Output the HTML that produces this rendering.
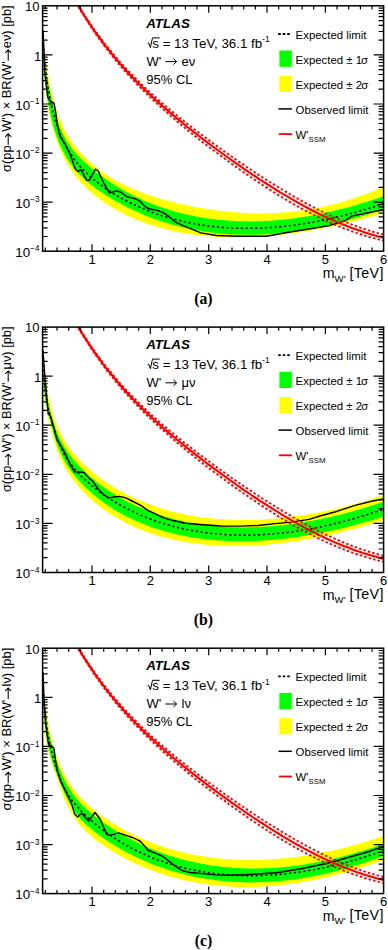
<!DOCTYPE html>
<html><head><meta charset="utf-8"><style>
html,body{margin:0;padding:0;background:#fff;}
body{width:388px;height:950px;overflow:hidden;}
svg{display:block;font-family:"Liberation Sans",sans-serif;}
</style></head><body>
<svg width="388" height="950" viewBox="0 0 388 950">
<clipPath id="c0"><rect x="42.6" y="5.8" width="341" height="245.4"/></clipPath>
<g clip-path="url(#c0)">
<polygon points="42.6,29.5 42.9,33.6 43.3,37.7 43.7,41.8 44.1,45.8 44.6,49.9 45,53.9 45.6,57.9 46.1,61.9 46.7,65.9 47.3,69.8 47.9,73.6 48.6,77.4 49.3,81.2 50,84.8 50.8,88.4 51.6,92 52.4,95.4 53.2,98.8 54.1,102.1 55,105.3 56,108.4 57,111.4 58,114.3 59,117.1 60.1,119.8 61.2,122.5 62.3,125 63.5,127.5 64.6,129.9 65.9,132.2 67.1,134.4 68.4,136.5 69.7,138.6 71.1,140.6 72.4,142.5 73.8,144.4 75.3,146.3 76.8,148.1 78.3,149.9 79.8,151.6 81.3,153.3 82.9,155 84.6,156.7 86.2,158.3 87.9,160 89.6,161.5 91.4,163.1 93.1,164.6 94.9,166.1 96.8,167.6 98.6,169 100.5,170.5 102.5,171.8 104.4,173.2 106.4,174.6 108.4,175.9 110.5,177.2 112.6,178.4 114.7,179.7 116.8,180.9 119,182.1 121.2,183.2 123.5,184.4 125.7,185.5 128,186.6 130.4,187.7 132.7,188.7 135.1,189.7 137.5,190.7 140,191.7 142.5,192.7 145,193.6 147.5,194.5 150.1,195.4 152.7,196.3 155.4,197.1 158,198 160.7,198.8 163.5,199.6 166.2,200.3 169,201.1 171.8,201.8 174.7,202.5 177.6,203.2 180.5,203.9 183.4,204.5 186.4,205.2 189.4,205.8 192.4,206.4 195.5,207 198.6,207.5 201.7,208.1 204.9,208.6 208.1,209.1 211.3,209.6 214.6,210.1 217.9,210.5 221.2,211 224.5,211.3 227.9,211.7 231.3,212 234.7,212.3 238.2,212.6 241.7,212.8 245.2,213 248.8,213.2 252.4,213.3 256,213.4 259.7,213.4 263.4,213.4 267.1,213.4 270.8,213.2 274.6,213.1 278.4,212.9 282.2,212.6 286.1,212.3 290,212 293.9,211.5 297.9,211.1 301.9,210.5 305.9,209.9 310,209.3 314.1,208.5 318.2,207.7 322.3,206.9 326.5,206 330.7,205 334.9,203.9 339.2,202.7 343.5,201.5 347.8,200.2 352.2,198.8 356.6,197.4 361,195.8 365.5,194.2 370,192.5 374.5,190.7 379,188.8 383.6,186.9 383.6,212.9 379,214.3 374.5,215.7 370,217 365.5,218.2 361,219.4 356.6,220.6 352.2,221.7 347.8,222.8 343.5,223.8 339.2,224.8 334.9,225.8 330.7,226.7 326.5,227.6 322.3,228.5 318.2,229.3 314.1,230 310,230.8 305.9,231.4 301.9,232.1 297.9,232.7 293.9,233.3 290,233.8 286.1,234.3 282.2,234.8 278.4,235.2 274.6,235.6 270.8,235.9 267.1,236.2 263.4,236.5 259.7,236.7 256,237 252.4,237.1 248.8,237.3 245.2,237.4 241.7,237.4 238.2,237.5 234.7,237.5 231.3,237.4 227.9,237.4 224.5,237.2 221.2,237.1 217.9,236.9 214.6,236.7 211.3,236.5 208.1,236.2 204.9,236 201.7,235.6 198.6,235.3 195.5,234.9 192.4,234.5 189.4,234 186.4,233.5 183.4,233 180.5,232.5 177.6,231.9 174.7,231.3 171.8,230.7 169,230 166.2,229.3 163.5,228.6 160.7,227.9 158,227.1 155.4,226.3 152.7,225.5 150.1,224.6 147.5,223.7 145,222.8 142.5,221.9 140,221 137.5,220 135.1,219 132.7,217.9 130.4,216.9 128,215.8 125.7,214.7 123.5,213.6 121.2,212.4 119,211.2 116.8,210 114.7,208.8 112.6,207.6 110.5,206.3 108.4,205 106.4,203.7 104.4,202.3 102.5,201 100.5,199.6 98.6,198.2 96.8,196.8 94.9,195.3 93.1,193.9 91.4,192.4 89.6,190.8 87.9,189.3 86.2,187.7 84.6,186 82.9,184.4 81.3,182.7 79.8,180.9 78.3,179.1 76.8,177.3 75.3,175.4 73.8,173.5 72.4,171.5 71.1,169.5 69.7,167.5 68.4,165.4 67.1,163.2 65.9,161 64.6,158.7 63.5,156.3 62.3,153.9 61.2,151.5 60.1,148.9 59,146.3 58,143.7 57,141 56,138.2 55,135.3 54.1,132.3 53.2,129.3 52.4,126.2 51.6,123.1 50.8,119.8 50,116.5 49.3,113 48.6,109.5 47.9,106 47.3,102.3 46.7,98.5 46.1,94.7 45.6,90.7 45,86.7 44.6,82.5 44.1,78.3 43.7,74 43.3,69.5 42.9,65 42.6,60.3" fill="#ffff00"/>
<polygon points="42.6,39.8 42.9,44.2 43.3,48.5 43.7,52.7 44.1,56.8 44.6,60.7 45,64.5 45.6,68.2 46.1,71.8 46.7,75.3 47.3,78.7 47.9,82.1 48.6,85.3 49.3,88.5 50,91.7 50.8,95 51.6,98.4 52.4,101.9 53.2,105.5 54.1,109.1 55,112.5 56,115.7 57,118.9 58,121.8 59,124.7 60.1,127.4 61.2,130 62.3,132.5 63.5,134.9 64.6,137.2 65.9,139.3 67.1,141.4 68.4,143.5 69.7,145.4 71.1,147.3 72.4,149.1 73.8,150.8 75.3,152.5 76.8,154.2 78.3,155.8 79.8,157.4 81.3,158.9 82.9,160.5 84.6,162 86.2,163.5 87.9,165 89.6,166.5 91.4,168 93.1,169.5 94.9,170.9 96.8,172.4 98.6,173.8 100.5,175.3 102.5,176.7 104.4,178.1 106.4,179.5 108.4,180.9 110.5,182.3 112.6,183.6 114.7,185 116.8,186.3 119,187.6 121.2,188.9 123.5,190.2 125.7,191.5 128,192.7 130.4,193.9 132.7,195.1 135.1,196.3 137.5,197.5 140,198.6 142.5,199.8 145,200.9 147.5,201.9 150.1,203 152.7,204 155.4,205 158,206 160.7,207 163.5,207.9 166.2,208.8 169,209.7 171.8,210.5 174.7,211.4 177.6,212.2 180.5,212.9 183.4,213.7 186.4,214.4 189.4,215.1 192.4,215.7 195.5,216.3 198.6,216.9 201.7,217.4 204.9,218 208.1,218.4 211.3,218.9 214.6,219.3 217.9,219.7 221.2,220 224.5,220.3 227.9,220.6 231.3,220.8 234.7,221 238.2,221.2 241.7,221.3 245.2,221.3 248.8,221.4 252.4,221.4 256,221.3 259.7,221.2 263.4,221.1 267.1,220.9 270.8,220.7 274.6,220.4 278.4,220.1 282.2,219.7 286.1,219.3 290,218.9 293.9,218.4 297.9,217.8 301.9,217.2 305.9,216.6 310,215.9 314.1,215.2 318.2,214.4 322.3,213.5 326.5,212.6 330.7,211.7 334.9,210.7 339.2,209.6 343.5,208.5 347.8,207.4 352.2,206.2 356.6,204.9 361,203.6 365.5,202.2 370,200.8 374.5,199.3 379,197.7 383.6,196.1 383.6,208.8 379,210.4 374.5,212 370,213.6 365.5,215 361,216.5 356.6,217.8 352.2,219.1 347.8,220.4 343.5,221.6 339.2,222.7 334.9,223.8 330.7,224.8 326.5,225.8 322.3,226.7 318.2,227.6 314.1,228.4 310,229.2 305.9,229.9 301.9,230.5 297.9,231.1 293.9,231.7 290,232.2 286.1,232.7 282.2,233.1 278.4,233.5 274.6,233.8 270.8,234.1 267.1,234.3 263.4,234.5 259.7,234.6 256,234.7 252.4,234.8 248.8,234.8 245.2,234.8 241.7,234.7 238.2,234.6 234.7,234.5 231.3,234.3 227.9,234.1 224.5,233.9 221.2,233.6 217.9,233.2 214.6,232.9 211.3,232.5 208.1,232.1 204.9,231.6 201.7,231.1 198.6,230.6 195.5,230 192.4,229.4 189.4,228.8 186.4,228.1 183.4,227.5 180.5,226.8 177.6,226 174.7,225.3 171.8,224.5 169,223.6 166.2,222.8 163.5,221.9 160.7,221 158,220.1 155.4,219.2 152.7,218.2 150.1,217.3 147.5,216.3 145,215.2 142.5,214.2 140,213.1 137.5,212.1 135.1,211 132.7,209.8 130.4,208.7 128,207.6 125.7,206.4 123.5,205.2 121.2,204 119,202.8 116.8,201.6 114.7,200.4 112.6,199.2 110.5,197.9 108.4,196.6 106.4,195.4 104.4,194.1 102.5,192.8 100.5,191.5 98.6,190.2 96.8,188.9 94.9,187.6 93.1,186.2 91.4,184.9 89.6,183.5 87.9,182.1 86.2,180.6 84.6,179.2 82.9,177.7 81.3,176.1 79.8,174.6 78.3,173 76.8,171.3 75.3,169.6 73.8,167.9 72.4,166.1 71.1,164.2 69.7,162.3 68.4,160.4 67.1,158.4 65.9,156.3 64.6,154.1 63.5,151.9 62.3,149.6 61.2,147.3 60.1,144.8 59,142.3 58,139.7 57,137 56,134.3 55,131.4 54.1,128.4 53.2,125.4 52.4,122.2 51.6,119 50.8,115.7 50,112.3 49.3,108.8 48.6,105.2 47.9,101.6 47.3,97.9 46.7,94.2 46.1,90.3 45.6,86.3 45,82.1 44.6,77.7 44.1,73 43.7,68 43.3,62.7 42.9,56.9 42.6,50.7" fill="#00ff00"/>
<polyline points="42.6,34.2 42.9,39.6 43.3,44.9 43.7,50.1 44.1,55.1 44.6,60 45,64.7 45.6,69.4 46.1,73.9 46.7,78.2 47.3,82.5 47.9,86.6 48.6,90.6 49.3,94.6 50,98.4 50.8,102 51.6,105.6 52.4,109.1 53.2,112.5 54.1,115.8 55,118.9 56,122 57,125 58,127.9 59,130.7 60.1,133.5 61.2,136.1 62.3,138.7 63.5,141.2 64.6,143.6 65.9,146 67.1,148.3 68.4,150.5 69.7,152.7 71.1,154.7 72.4,156.8 73.8,158.8 75.3,160.7 76.8,162.6 78.3,164.4 79.8,166.2 81.3,167.9 82.9,169.6 84.6,171.2 86.2,172.8 87.9,174.4 89.6,176 91.4,177.5 93.1,179 94.9,180.5 96.8,181.9 98.6,183.3 100.5,184.7 102.5,186.1 104.4,187.5 106.4,188.9 108.4,190.2 110.5,191.6 112.6,192.9 114.7,194.2 116.8,195.5 119,196.8 121.2,198 123.5,199.3 125.7,200.5 128,201.7 130.4,202.8 132.7,204 135.1,205.1 137.5,206.3 140,207.3 142.5,208.4 145,209.5 147.5,210.5 150.1,211.5 152.7,212.5 155.4,213.4 158,214.4 160.7,215.3 163.5,216.1 166.2,217 169,217.8 171.8,218.6 174.7,219.4 177.6,220.1 180.5,220.8 183.4,221.5 186.4,222.2 189.4,222.8 192.4,223.4 195.5,224 198.6,224.5 201.7,225 204.9,225.5 208.1,225.9 211.3,226.3 214.6,226.7 217.9,227 221.2,227.3 224.5,227.5 227.9,227.8 231.3,228 234.7,228.1 238.2,228.2 241.7,228.3 245.2,228.3 248.8,228.3 252.4,228.3 256,228.2 259.7,228.1 263.4,227.9 267.1,227.7 270.8,227.5 274.6,227.2 278.4,226.9 282.2,226.5 286.1,226.1 290,225.7 293.9,225.2 297.9,224.6 301.9,224 305.9,223.4 310,222.7 314.1,222 318.2,221.2 322.3,220.4 326.5,219.5 330.7,218.6 334.9,217.6 339.2,216.6 343.5,215.5 347.8,214.4 352.2,213.2 356.6,212 361,210.7 365.5,209.4 370,208 374.5,206.6 379,205.1 383.6,203.6" fill="none" stroke="#000" stroke-width="1.6" stroke-dasharray="2.2 2.6"/>
<polyline points="43,30 44,50 44.5,70 45.7,80 47.7,97 49.8,100.5 54,103.1 55.6,111.6 57.1,123.2 59.5,134.8 61,137.9 65,143.8 70.2,154.6 75.3,169 77.9,171.6 81,169.5 86.6,180.4 89.2,180.4 95.4,169.2 98.2,171 104.1,183.7 109.3,193 116.5,190.9 120.6,192 126.8,196.6 135.1,198.7 140,201.2 145.6,207.1 149.5,209 157.2,210.3 163.7,212.9 170.1,217.4 175,221.9 185.5,226.7 200.9,232.9 216.4,235.5 230,236 243.2,236.3 266.4,236.3 290,232 310.6,228.7 329.2,225.6 345,220.8 352.4,215.9 364.7,213.5 377.1,211 383.6,210" fill="none" stroke="#000" stroke-width="1.4" stroke-linejoin="round"/>
<polyline points="78.4,5.1 81.8,10.7 85.2,16.1 88.7,21.3 92.1,26.4 95.5,31.2 99,35.9 102.4,40.5 105.8,44.9 109.3,49.2 112.7,53.4 116.1,57.4 119.5,61.3 123,65.2 126.4,68.9 129.8,72.5 133.3,76.1 136.7,79.5 140.1,82.9 143.5,86.2 147,89.5 150.4,92.7 153.8,95.8 157.3,98.8 160.7,101.9 164.1,104.8 167.6,107.7 171,110.6 174.4,113.4 177.8,116.2 181.3,119 184.7,121.7 188.1,124.4 191.6,127 195,129.7 198.4,132.3 201.8,134.9 205.3,137.5 208.7,140 212.1,142.6 215.6,145.1 219,147.6 222.4,150 225.9,152.5 229.3,154.9 232.7,157.3 236.1,159.7 239.6,162.1 243,164.4 246.4,166.7 249.9,169 253.3,171.3 256.7,173.6 260.1,175.8 263.6,178 267,180.2 270.4,182.3 273.9,184.4 277.3,186.5 280.7,188.6 284.1,190.7 287.6,192.8 291,194.8 294.4,196.8 297.9,198.8 301.3,200.7 304.7,202.6 308.2,204.4 311.6,206.2 315,208 318.4,209.8 321.9,211.5 325.3,213.1 328.7,214.7 332.2,216.3 335.6,217.9 339,219.3 342.4,220.8 345.9,222.2 349.3,223.6 352.7,224.9 356.2,226.1 359.6,227.4 363,228.5 366.5,229.7 369.9,230.8 373.3,231.8 376.7,232.8 380.2,233.8 383.6,234.7" fill="none" stroke="#ff0000" stroke-width="1.9" stroke-dasharray="2.4 2.2"/>
<polyline points="78.4,6.7 81.8,12.4 85.2,17.9 88.7,23.3 92.1,28.5 95.5,33.6 99,38.5 102.4,43.2 105.8,47.8 109.3,52.2 112.7,56.5 116.1,60.8 119.5,64.8 123,68.8 126.4,72.7 129.8,76.5 133.3,80.2 136.7,83.8 140.1,87.3 143.5,90.7 147,94.1 150.4,97.4 153.8,100.7 157.3,103.9 160.7,107 164.1,110.1 167.6,113.1 171,116.1 174.4,119.1 177.8,122 181.3,124.9 184.7,127.7 188.1,130.5 191.6,133.3 195,136.1 198.4,138.8 201.8,141.5 205.3,144.1 208.7,146.8 212.1,149.4 215.6,151.9 219,154.5 222.4,157 225.9,159.5 229.3,162 232.7,164.5 236.1,166.9 239.6,169.4 243,171.8 246.4,174.1 249.9,176.5 253.3,178.8 256.7,181.1 260.1,183.4 263.6,185.7 267,187.9 270.4,190.1 273.9,192.3 277.3,194.5 280.7,196.6 284.1,198.6 287.6,200.6 291,202.6 294.4,204.6 297.9,206.5 301.3,208.3 304.7,210.2 308.2,212 311.6,213.7 315,215.5 318.4,217.1 321.9,218.8 325.3,220.4 328.7,222 332.2,223.5 335.6,224.9 339,226.3 342.4,227.7 345.9,229 349.3,230.3 352.7,231.6 356.2,232.8 359.6,233.9 363,235 366.5,236.1 369.9,237.1 373.3,238 376.7,239 380.2,239.8 383.6,240.7" fill="none" stroke="#ff0000" stroke-width="1.9" stroke-dasharray="2.4 2.2"/>
<polyline points="78.4,5.9 81.8,11.5 85.2,17 88.7,22.3 92.1,27.4 95.5,32.4 99,37.2 102.4,41.8 105.8,46.4 109.3,50.7 112.7,55 116.1,59.1 119.5,63.1 123,67 126.4,70.8 129.8,74.5 133.3,78.1 136.7,81.7 140.1,85.1 143.5,88.5 147,91.8 150.4,95 153.8,98.2 157.3,101.4 160.7,104.4 164.1,107.5 167.6,110.4 171,113.4 174.4,116.3 177.8,119.1 181.3,121.9 184.7,124.7 188.1,127.5 191.6,130.2 195,132.9 198.4,135.5 201.8,138.2 205.3,140.8 208.7,143.4 212.1,146 215.6,148.5 219,151 222.4,153.5 225.9,156 229.3,158.5 232.7,160.9 236.1,163.3 239.6,165.7 243,168.1 246.4,170.4 249.9,172.8 253.3,175.1 256.7,177.3 260.1,179.6 263.6,181.8 267,184 270.4,186.2 273.9,188.4 277.3,190.5 280.7,192.6 284.1,194.7 287.6,196.7 291,198.7 294.4,200.7 297.9,202.6 301.3,204.5 304.7,206.4 308.2,208.2 311.6,210 315,211.7 318.4,213.5 321.9,215.1 325.3,216.8 328.7,218.3 332.2,219.9 335.6,221.4 339,222.8 342.4,224.3 345.9,225.6 349.3,226.9 352.7,228.2 356.2,229.5 359.6,230.6 363,231.8 366.5,232.9 369.9,233.9 373.3,234.9 376.7,235.9 380.2,236.8 383.6,237.7" fill="none" stroke="#ff0000" stroke-width="2.1"/>
</g>
<path d="M45.3 251.2v-3.6M45.3 5.8v3.6M57 251.2v-3.6M57 5.8v3.6M68.7 251.2v-3.6M68.7 5.8v3.6M80.3 251.2v-3.6M80.3 5.8v3.6M92 251.2v-7M92 5.8v7M103.7 251.2v-3.6M103.7 5.8v3.6M115.3 251.2v-3.6M115.3 5.8v3.6M127 251.2v-3.6M127 5.8v3.6M138.7 251.2v-3.6M138.7 5.8v3.6M150.3 251.2v-7M150.3 5.8v7M162 251.2v-3.6M162 5.8v3.6M173.7 251.2v-3.6M173.7 5.8v3.6M185.4 251.2v-3.6M185.4 5.8v3.6M197 251.2v-3.6M197 5.8v3.6M208.7 251.2v-7M208.7 5.8v7M220.4 251.2v-3.6M220.4 5.8v3.6M232 251.2v-3.6M232 5.8v3.6M243.7 251.2v-3.6M243.7 5.8v3.6M255.4 251.2v-3.6M255.4 5.8v3.6M267 251.2v-7M267 5.8v7M278.7 251.2v-3.6M278.7 5.8v3.6M290.4 251.2v-3.6M290.4 5.8v3.6M302.1 251.2v-3.6M302.1 5.8v3.6M313.7 251.2v-3.6M313.7 5.8v3.6M325.4 251.2v-7M325.4 5.8v7M337.1 251.2v-3.6M337.1 5.8v3.6M348.7 251.2v-3.6M348.7 5.8v3.6M360.4 251.2v-3.6M360.4 5.8v3.6M372.1 251.2v-3.6M372.1 5.8v3.6M42.6 236.5h5M383.6 236.5h-5M42.6 227.8h5M383.6 227.8h-5M42.6 221.7h5M383.6 221.7h-5M42.6 216.9h5M383.6 216.9h-5M42.6 213.1h5M383.6 213.1h-5M42.6 209.8h5M383.6 209.8h-5M42.6 206.9h5M383.6 206.9h-5M42.6 204.4h5M383.6 204.4h-5M42.6 202.2h10M383.6 202.2h-10M42.6 187.4h5M383.6 187.4h-5M42.6 178.8h5M383.6 178.8h-5M42.6 172.6h5M383.6 172.6h-5M42.6 167.9h5M383.6 167.9h-5M42.6 164h5M383.6 164h-5M42.6 160.7h5M383.6 160.7h-5M42.6 157.8h5M383.6 157.8h-5M42.6 155.3h5M383.6 155.3h-5M42.6 153.1h10M383.6 153.1h-10M42.6 138.3h5M383.6 138.3h-5M42.6 129.7h5M383.6 129.7h-5M42.6 123.5h5M383.6 123.5h-5M42.6 118.8h5M383.6 118.8h-5M42.6 114.9h5M383.6 114.9h-5M42.6 111.6h5M383.6 111.6h-5M42.6 108.8h5M383.6 108.8h-5M42.6 106.3h5M383.6 106.3h-5M42.6 104h10M383.6 104h-10M42.6 89.2h5M383.6 89.2h-5M42.6 80.6h5M383.6 80.6h-5M42.6 74.5h5M383.6 74.5h-5M42.6 69.7h5M383.6 69.7h-5M42.6 65.8h5M383.6 65.8h-5M42.6 62.5h5M383.6 62.5h-5M42.6 59.7h5M383.6 59.7h-5M42.6 57.2h5M383.6 57.2h-5M42.6 54.9h10M383.6 54.9h-10M42.6 40.2h5M383.6 40.2h-5M42.6 31.5h5M383.6 31.5h-5M42.6 25.4h5M383.6 25.4h-5M42.6 20.6h5M383.6 20.6h-5M42.6 16.7h5M383.6 16.7h-5M42.6 13.5h5M383.6 13.5h-5M42.6 10.6h5M383.6 10.6h-5M42.6 8.1h5M383.6 8.1h-5" stroke="#000" stroke-width="1.2" fill="none"/>
<rect x="42.6" y="5.8" width="341" height="245.4" fill="none" stroke="#000" stroke-width="1.5"/>
<g font-size="13"><text x="25" y="11.2">10</text><text x="34" y="60.5">1</text><text x="15.2" y="109.8" font-size="13.4">10</text><text x="30.1" y="104.2" font-size="8.2">−1</text><text x="15.2" y="158.9" font-size="13.4">10</text><text x="30.1" y="153.3" font-size="8.2">−2</text><text x="15.2" y="208" font-size="13.4">10</text><text x="30.1" y="202.4" font-size="8.2">−3</text><text x="15.2" y="257" font-size="13.4">10</text><text x="30.1" y="251.4" font-size="8.2">−4</text><text x="92" y="263.9" text-anchor="middle">1</text><text x="150.3" y="263.9" text-anchor="middle">2</text><text x="208.7" y="263.9" text-anchor="middle">3</text><text x="267" y="263.9" text-anchor="middle">4</text><text x="325.4" y="263.9" text-anchor="middle">5</text><text x="383.7" y="263.9" text-anchor="middle">6</text></g>
<text x="322.8" y="278.4" font-size="14.2">m</text><text x="334.6" y="281.9" font-size="9.6">W'</text><text x="349.5" y="277.6" font-size="14.3" letter-spacing="0.35">[TeV]</text>
<g transform="translate(11.3 172) rotate(-90) scale(0.9922 1)" font-size="13.0"><text x="0" y="0">σ(pp</text><path d="M27.4 -3.1H38.5M35.5 -6.1L38.5 -3.1L35.5 -0.1" fill="none" stroke="#000" stroke-width="1.05"/><text x="40.5" y="0">W') × BR(W'</text><path d="M112.1 -3.1H123.1M120.1 -6.1L123.1 -3.1L120.1 -0.1" fill="none" stroke="#000" stroke-width="1.05"/><text x="124.7" y="0">eν) [pb]</text></g>
<text x="146.2" y="28" font-size="13.4" font-weight="bold" font-style="italic">ATLAS</text>
<path d="M147.6 43.6l1.1-0.7l1.7 4.6l2.1-9.6h7.2" fill="none" stroke="#000" stroke-width="1.0"/>
<text x="152.3" y="47.7" font-size="13.3">s = 13 TeV, 36.1 fb<tspan font-size="8.5" dy="-5.5">-1</tspan></text>
<text x="146.6" y="65.6" font-size="13">W'</text>
<path d="M165.3 61.6H176.6M173.4 58.6L176.6 61.6L173.4 64.6" fill="none" stroke="#000" stroke-width="1.0"/>
<text x="181.5" y="65.6" font-size="13">eν</text>
<text x="146.3" y="83.9" font-size="13">95% CL</text>
<path d="M278.2 34h12" stroke="#000" stroke-width="1.8" stroke-dasharray="2.6 1.9"/>
<rect x="279.4" y="50.5" width="12.4" height="16.3" fill="#00ff00"/>
<rect x="279.4" y="75.8" width="12.4" height="16.1" fill="#ffff00"/>
<path d="M278.5 108.9h13.4" stroke="#000" stroke-width="1.5"/>
<path d="M279 134.1h13" stroke="#ff0000" stroke-width="1.8"/>
<g font-size="11.4"><text x="295.6" y="39">Expected limit</text><text x="295.6" y="63.8">Expected ± 1<tspan dx="-1.0">σ</tspan></text><text x="295.6" y="89">Expected ± 2<tspan dx="-0.8">σ</tspan></text><text x="295.6" y="114">Observed limit</text><text x="295.6" y="138.6">W'<tspan font-size="7.8" dy="3.2">SSM</tspan></text></g>
<text x="0" y="0" transform="translate(203.4 303.8) scale(0.93 1)" text-anchor="middle" font-family="Liberation Serif" font-weight="bold" font-size="17">(a)</text>
<clipPath id="c1"><rect x="42.6" y="327.1" width="341" height="245.4"/></clipPath>
<g clip-path="url(#c1)">
<polygon points="42.6,349.8 42.9,354.3 43.3,358.8 43.7,363.1 44.1,367.3 44.6,371.4 45,375.3 45.6,379.2 46.1,382.9 46.7,386.5 47.3,390 47.9,393.5 48.6,396.8 49.3,400 50,403.1 50.8,406.1 51.6,409.1 52.4,411.9 53.2,414.7 54.1,417.4 55,420 56,422.6 57,425 58,427.4 59,429.8 60.1,432 61.2,434.2 62.3,436.4 63.5,438.5 64.6,440.5 65.9,442.5 67.1,444.4 68.4,446.3 69.7,448.1 71.1,449.9 72.4,451.7 73.8,453.4 75.3,455.1 76.8,456.8 78.3,458.4 79.8,460 81.3,461.6 82.9,463.2 84.6,464.7 86.2,466.3 87.9,467.8 89.6,469.3 91.4,470.8 93.1,472.3 94.9,473.8 96.8,475.2 98.6,476.7 100.5,478.1 102.5,479.5 104.4,480.9 106.4,482.3 108.4,483.6 110.5,485 112.6,486.3 114.7,487.6 116.8,488.9 119,490.1 121.2,491.4 123.5,492.6 125.7,493.8 128,495 130.4,496.1 132.7,497.3 135.1,498.4 137.5,499.5 140,500.5 142.5,501.6 145,502.6 147.5,503.6 150.1,504.6 152.7,505.5 155.4,506.4 158,507.3 160.7,508.2 163.5,509 166.2,509.8 169,510.6 171.8,511.4 174.7,512.1 177.6,512.8 180.5,513.5 183.4,514.1 186.4,514.7 189.4,515.3 192.4,515.8 195.5,516.4 198.6,516.8 201.7,517.3 204.9,517.7 208.1,518.1 211.3,518.5 214.6,518.8 217.9,519.1 221.2,519.3 224.5,519.5 227.9,519.7 231.3,519.9 234.7,520 238.2,520.1 241.7,520.1 245.2,520.1 248.8,520.1 252.4,520 256,519.9 259.7,519.7 263.4,519.5 267.1,519.3 270.8,519 274.6,518.7 278.4,518.4 282.2,518 286.1,517.5 290,517.1 293.9,516.6 297.9,516 301.9,515.4 305.9,514.7 310,514.1 314.1,513.3 318.2,512.5 322.3,511.7 326.5,510.8 330.7,509.9 334.9,509 339.2,508 343.5,506.9 347.8,505.8 352.2,504.6 356.6,503.4 361,502.2 365.5,500.9 370,499.5 374.5,498.1 379,496.7 383.6,495.2 383.6,520.3 379,521.8 374.5,523.2 370,524.5 365.5,525.8 361,527 356.6,528.3 352.2,529.4 347.8,530.6 343.5,531.6 339.2,532.7 334.9,533.7 330.7,534.7 326.5,535.6 322.3,536.5 318.2,537.3 314.1,538.1 310,538.9 305.9,539.6 301.9,540.3 297.9,540.9 293.9,541.5 290,542.1 286.1,542.6 282.2,543.1 278.4,543.5 274.6,544 270.8,544.3 267.1,544.7 263.4,545 259.7,545.2 256,545.5 252.4,545.7 248.8,545.8 245.2,545.9 241.7,546 238.2,546.1 234.7,546.1 231.3,546 227.9,546 224.5,545.9 221.2,545.8 217.9,545.6 214.6,545.4 211.3,545.2 208.1,544.9 204.9,544.6 201.7,544.3 198.6,543.9 195.5,543.5 192.4,543.1 189.4,542.7 186.4,542.2 183.4,541.7 180.5,541.1 177.6,540.5 174.7,539.9 171.8,539.3 169,538.6 166.2,537.9 163.5,537.1 160.7,536.4 158,535.6 155.4,534.8 152.7,533.9 150.1,533 147.5,532.1 145,531.2 142.5,530.2 140,529.2 137.5,528.2 135.1,527.2 132.7,526.1 130.4,525 128,523.9 125.7,522.7 123.5,521.5 121.2,520.3 119,519.1 116.8,517.8 114.7,516.6 112.6,515.2 110.5,513.9 108.4,512.6 106.4,511.2 104.4,509.8 102.5,508.3 100.5,506.9 98.6,505.4 96.8,503.9 94.9,502.4 93.1,500.9 91.4,499.3 89.6,497.7 87.9,496.1 86.2,494.5 84.6,492.8 82.9,491.1 81.3,489.4 79.8,487.7 78.3,486 76.8,484.2 75.3,482.4 73.8,480.6 72.4,478.7 71.1,476.8 69.7,474.8 68.4,472.9 67.1,470.8 65.9,468.8 64.6,466.6 63.5,464.4 62.3,462.1 61.2,459.8 60.1,457.3 59,454.8 58,452.2 57,449.5 56,446.6 55,443.7 54.1,440.6 53.2,437.5 52.4,434.3 51.6,431.1 50.8,427.9 50,424.7 49.3,421.7 48.6,418.7 47.9,415.8 47.3,413.1 46.7,410.4 46.1,407.7 45.6,404.9 45,401.9 44.6,398.7 44.1,395 43.7,391 43.3,386.4 42.9,381.3 42.6,375.5" fill="#ffff00"/>
<polygon points="42.6,360.2 42.9,364.5 43.3,368.7 43.7,372.8 44.1,376.7 44.6,380.6 45,384.3 45.6,388 46.1,391.5 46.7,395 47.3,398.4 47.9,401.6 48.6,404.8 49.3,407.9 50,410.9 50.8,413.8 51.6,416.6 52.4,419.4 53.2,422.1 54.1,424.7 55,427.2 56,429.7 57,432.1 58,434.4 59,436.7 60.1,438.9 61.2,441.1 62.3,443.2 63.5,445.2 64.6,447.2 65.9,449.2 67.1,451.1 68.4,452.9 69.7,454.8 71.1,456.6 72.4,458.3 73.8,460 75.3,461.7 76.8,463.4 78.3,465 79.8,466.7 81.3,468.3 82.9,469.8 84.6,471.4 86.2,473 87.9,474.5 89.6,476 91.4,477.5 93.1,479 94.9,480.5 96.8,482 98.6,483.4 100.5,484.9 102.5,486.3 104.4,487.7 106.4,489.1 108.4,490.4 110.5,491.8 112.6,493.1 114.7,494.4 116.8,495.7 119,497 121.2,498.3 123.5,499.5 125.7,500.7 128,501.9 130.4,503.1 132.7,504.2 135.1,505.3 137.5,506.4 140,507.5 142.5,508.6 145,509.6 147.5,510.6 150.1,511.6 152.7,512.6 155.4,513.5 158,514.4 160.7,515.3 163.5,516.1 166.2,517 169,517.7 171.8,518.5 174.7,519.3 177.6,520 180.5,520.6 183.4,521.3 186.4,521.9 189.4,522.5 192.4,523.1 195.5,523.6 198.6,524.1 201.7,524.5 204.9,525 208.1,525.4 211.3,525.7 214.6,526 217.9,526.3 221.2,526.6 224.5,526.8 227.9,527 231.3,527.2 234.7,527.3 238.2,527.3 241.7,527.4 245.2,527.4 248.8,527.3 252.4,527.3 256,527.1 259.7,527 263.4,526.8 267.1,526.5 270.8,526.3 274.6,525.9 278.4,525.6 282.2,525.2 286.1,524.7 290,524.2 293.9,523.7 297.9,523.1 301.9,522.5 305.9,521.8 310,521.1 314.1,520.4 318.2,519.6 322.3,518.7 326.5,517.8 330.7,516.9 334.9,515.9 339.2,514.9 343.5,513.8 347.8,512.6 352.2,511.4 356.6,510.2 361,508.9 365.5,507.6 370,506.2 374.5,504.8 379,503.3 383.6,501.7 383.6,516.6 379,518 374.5,519.4 370,520.8 365.5,522.1 361,523.3 356.6,524.5 352.2,525.7 347.8,526.8 343.5,527.9 339.2,528.9 334.9,529.9 330.7,530.9 326.5,531.8 322.3,532.6 318.2,533.5 314.1,534.2 310,535 305.9,535.6 301.9,536.3 297.9,536.9 293.9,537.5 290,538 286.1,538.5 282.2,538.9 278.4,539.3 274.6,539.7 270.8,540 267.1,540.3 263.4,540.5 259.7,540.7 256,540.9 252.4,541 248.8,541.1 245.2,541.2 241.7,541.2 238.2,541.2 234.7,541.1 231.3,541.1 227.9,540.9 224.5,540.8 221.2,540.6 217.9,540.4 214.6,540.1 211.3,539.8 208.1,539.5 204.9,539.1 201.7,538.7 198.6,538.3 195.5,537.9 192.4,537.4 189.4,536.9 186.4,536.3 183.4,535.7 180.5,535.1 177.6,534.5 174.7,533.8 171.8,533.1 169,532.4 166.2,531.6 163.5,530.8 160.7,530 158,529.2 155.4,528.3 152.7,527.4 150.1,526.5 147.5,525.6 145,524.6 142.5,523.6 140,522.5 137.5,521.5 135.1,520.4 132.7,519.3 130.4,518.2 128,517 125.7,515.9 123.5,514.7 121.2,513.5 119,512.2 116.8,511 114.7,509.7 112.6,508.4 110.5,507 108.4,505.7 106.4,504.3 104.4,502.9 102.5,501.5 100.5,500.1 98.6,498.6 96.8,497.2 94.9,495.7 93.1,494.2 91.4,492.7 89.6,491.1 87.9,489.6 86.2,488 84.6,486.4 82.9,484.8 81.3,483.1 79.8,481.5 78.3,479.8 76.8,478.1 75.3,476.3 73.8,474.6 72.4,472.7 71.1,470.9 69.7,469 68.4,467 67.1,465 65.9,462.9 64.6,460.7 63.5,458.5 62.3,456.3 61.2,453.9 60.1,451.5 59,449 58,446.4 57,443.8 56,441 55,438.2 54.1,435.3 53.2,432.3 52.4,429.2 51.6,426.1 50.8,423.1 50,420.1 49.3,417.2 48.6,414.5 47.9,411.8 47.3,409.1 46.7,406.4 46.1,403.5 45.6,400.4 45,397 44.6,393.2 44.1,389 43.7,384.3 43.3,378.9 42.9,372.9 42.6,366.1" fill="#00ff00"/>
<polyline points="43,350.2 43.4,359.9 43.8,368.3 44.2,375.7 44.6,382.1 45.1,387.6 45.6,392.4 46.2,396.5 46.8,400.2 47.4,403.5 48,406.5 48.7,409.4 49.4,412.2 50.1,415 50.8,417.8 51.6,420.6 52.4,423.4 53.3,426.3 54.2,429.2 55.1,432.2 56,435.1 57,437.9 58,440.6 59,443.2 60.1,445.7 61.2,448.1 62.3,450.4 63.4,452.7 64.6,454.8 65.8,456.9 67,458.9 68.3,460.8 69.6,462.7 71,464.5 72.3,466.3 73.7,468 75.1,469.6 76.6,471.3 78.1,472.9 79.6,474.4 81.1,476 82.7,477.5 84.3,479 85.9,480.5 87.6,482 89.3,483.4 91,484.9 92.8,486.3 94.5,487.8 96.4,489.2 98.2,490.6 100.1,492 102,493.4 103.9,494.8 105.9,496.1 107.9,497.5 109.9,498.8 112,500.1 114.1,501.4 116.2,502.7 118.3,503.9 120.5,505.2 122.7,506.4 124.9,507.6 127.2,508.8 129.5,509.9 131.8,511.1 134.2,512.2 136.6,513.3 139,514.4 141.5,515.4 143.9,516.5 146.5,517.5 149,518.5 151.6,519.5 154.2,520.4 156.8,521.3 159.5,522.2 162.2,523.1 164.9,523.9 167.6,524.7 170.4,525.5 173.2,526.3 176.1,527 178.9,527.7 181.9,528.4 184.8,529.1 187.8,529.7 190.7,530.3 193.8,530.8 196.8,531.3 199.9,531.8 203,532.3 206.2,532.7 209.4,533.1 212.6,533.5 215.8,533.8 219.1,534.1 222.4,534.3 225.7,534.6 229,534.8 232.4,534.9 235.9,535 239.3,535.1 242.8,535.1 246.3,535.1 249.8,535.1 253.4,535 257,534.9 260.6,534.7 264.3,534.5 268,534.3 271.7,534 275.5,533.7 279.2,533.3 283,532.9 286.9,532.5 290.8,532 294.7,531.5 298.6,530.9 302.6,530.2 306.5,529.6 310.6,528.9 314.6,528.1 318.7,527.3 322.8,526.4 327,525.5 331.1,524.5 335.3,523.5 339.6,522.5 343.8,521.4 348.1,520.2 352.5,519 356.8,517.8 361.2,516.5 365.6,515.1 370.1,513.7 374.6,512.2 379.1,510.7 383.6,509.1" fill="none" stroke="#000" stroke-width="1.6" stroke-dasharray="2.2 2.6"/>
<polyline points="43,352 44.8,375 46.2,390 46.9,399 47.9,409.7 48.2,414.1 50.1,415.4 52,420.4 53.3,425.5 57.1,440 60,444.1 65.2,453.4 70.3,464.7 74.5,471.8 79,472 84.2,472.4 88.9,478.1 92.5,481 98.6,489.4 104,494.8 108.7,497.9 114,497 119,496.4 125.3,497.7 132,501 140.7,505.4 147.8,510.3 155,513.6 163.7,517.9 171.4,520.2 180,522 185,523.2 200.3,524.5 220.9,526 241,526.1 258,525.5 273,523.9 291.1,522.1 309.1,519.4 320,516 337.5,511.2 355,505.4 372.6,501 383.6,498.9" fill="none" stroke="#000" stroke-width="1.4" stroke-linejoin="round"/>
<polyline points="78.4,326.3 81.8,331.9 85.2,337.3 88.7,342.5 92.1,347.6 95.5,352.4 99,357.1 102.4,361.7 105.8,366.1 109.3,370.4 112.7,374.6 116.1,378.6 119.5,382.5 123,386.4 126.4,390.1 129.8,393.7 133.3,397.3 136.7,400.7 140.1,404.1 143.5,407.4 147,410.7 150.4,413.9 153.8,417 157.3,420 160.7,423.1 164.1,426 167.6,428.9 171,431.8 174.4,434.6 177.8,437.4 181.3,440.2 184.7,442.9 188.1,445.6 191.6,448.2 195,450.9 198.4,453.5 201.8,456.1 205.3,458.7 208.7,461.2 212.1,463.8 215.6,466.3 219,468.8 222.4,471.2 225.9,473.7 229.3,476.1 232.7,478.5 236.1,480.9 239.6,483.3 243,485.6 246.4,487.9 249.9,490.2 253.3,492.5 256.7,494.8 260.1,497 263.6,499.2 267,501.4 270.4,503.5 273.9,505.6 277.3,507.7 280.7,509.8 284.1,511.9 287.6,514 291,516 294.4,518 297.9,520 301.3,521.9 304.7,523.8 308.2,525.6 311.6,527.4 315,529.2 318.4,531 321.9,532.7 325.3,534.3 328.7,535.9 332.2,537.5 335.6,539.1 339,540.5 342.4,542 345.9,543.4 349.3,544.8 352.7,546.1 356.2,547.3 359.6,548.6 363,549.7 366.5,550.9 369.9,552 373.3,553 376.7,554 380.2,555 383.6,555.9" fill="none" stroke="#ff0000" stroke-width="1.9" stroke-dasharray="2.4 2.2"/>
<polyline points="78.4,327.9 81.8,333.6 85.2,339.1 88.7,344.5 92.1,349.7 95.5,354.8 99,359.7 102.4,364.4 105.8,369 109.3,373.4 112.7,377.7 116.1,382 119.5,386 123,390 126.4,393.9 129.8,397.7 133.3,401.4 136.7,405 140.1,408.5 143.5,411.9 147,415.3 150.4,418.6 153.8,421.9 157.3,425.1 160.7,428.2 164.1,431.3 167.6,434.3 171,437.3 174.4,440.3 177.8,443.2 181.3,446.1 184.7,448.9 188.1,451.7 191.6,454.5 195,457.3 198.4,460 201.8,462.7 205.3,465.3 208.7,468 212.1,470.6 215.6,473.1 219,475.7 222.4,478.2 225.9,480.7 229.3,483.2 232.7,485.7 236.1,488.1 239.6,490.6 243,493 246.4,495.3 249.9,497.7 253.3,500 256.7,502.3 260.1,504.6 263.6,506.9 267,509.1 270.4,511.3 273.9,513.5 277.3,515.7 280.7,517.8 284.1,519.8 287.6,521.8 291,523.8 294.4,525.8 297.9,527.7 301.3,529.5 304.7,531.4 308.2,533.2 311.6,534.9 315,536.7 318.4,538.3 321.9,540 325.3,541.6 328.7,543.2 332.2,544.7 335.6,546.1 339,547.5 342.4,548.9 345.9,550.2 349.3,551.5 352.7,552.8 356.2,554 359.6,555.1 363,556.2 366.5,557.3 369.9,558.3 373.3,559.2 376.7,560.2 380.2,561 383.6,561.9" fill="none" stroke="#ff0000" stroke-width="1.9" stroke-dasharray="2.4 2.2"/>
<polyline points="78.4,327.1 81.8,332.7 85.2,338.2 88.7,343.5 92.1,348.6 95.5,353.6 99,358.4 102.4,363 105.8,367.6 109.3,371.9 112.7,376.2 116.1,380.3 119.5,384.3 123,388.2 126.4,392 129.8,395.7 133.3,399.3 136.7,402.9 140.1,406.3 143.5,409.7 147,413 150.4,416.2 153.8,419.4 157.3,422.6 160.7,425.6 164.1,428.7 167.6,431.6 171,434.6 174.4,437.5 177.8,440.3 181.3,443.1 184.7,445.9 188.1,448.7 191.6,451.4 195,454.1 198.4,456.7 201.8,459.4 205.3,462 208.7,464.6 212.1,467.2 215.6,469.7 219,472.2 222.4,474.7 225.9,477.2 229.3,479.7 232.7,482.1 236.1,484.5 239.6,486.9 243,489.3 246.4,491.6 249.9,494 253.3,496.3 256.7,498.5 260.1,500.8 263.6,503 267,505.2 270.4,507.4 273.9,509.6 277.3,511.7 280.7,513.8 284.1,515.9 287.6,517.9 291,519.9 294.4,521.9 297.9,523.8 301.3,525.7 304.7,527.6 308.2,529.4 311.6,531.2 315,532.9 318.4,534.7 321.9,536.3 325.3,538 328.7,539.5 332.2,541.1 335.6,542.6 339,544 342.4,545.5 345.9,546.8 349.3,548.1 352.7,549.4 356.2,550.7 359.6,551.8 363,553 366.5,554.1 369.9,555.1 373.3,556.1 376.7,557.1 380.2,558 383.6,558.9" fill="none" stroke="#ff0000" stroke-width="2.1"/>
</g>
<path d="M45.3 572.5v-3.6M45.3 327.1v3.6M57 572.5v-3.6M57 327.1v3.6M68.7 572.5v-3.6M68.7 327.1v3.6M80.3 572.5v-3.6M80.3 327.1v3.6M92 572.5v-7M92 327.1v7M103.7 572.5v-3.6M103.7 327.1v3.6M115.3 572.5v-3.6M115.3 327.1v3.6M127 572.5v-3.6M127 327.1v3.6M138.7 572.5v-3.6M138.7 327.1v3.6M150.3 572.5v-7M150.3 327.1v7M162 572.5v-3.6M162 327.1v3.6M173.7 572.5v-3.6M173.7 327.1v3.6M185.4 572.5v-3.6M185.4 327.1v3.6M197 572.5v-3.6M197 327.1v3.6M208.7 572.5v-7M208.7 327.1v7M220.4 572.5v-3.6M220.4 327.1v3.6M232 572.5v-3.6M232 327.1v3.6M243.7 572.5v-3.6M243.7 327.1v3.6M255.4 572.5v-3.6M255.4 327.1v3.6M267 572.5v-7M267 327.1v7M278.7 572.5v-3.6M278.7 327.1v3.6M290.4 572.5v-3.6M290.4 327.1v3.6M302.1 572.5v-3.6M302.1 327.1v3.6M313.7 572.5v-3.6M313.7 327.1v3.6M325.4 572.5v-7M325.4 327.1v7M337.1 572.5v-3.6M337.1 327.1v3.6M348.7 572.5v-3.6M348.7 327.1v3.6M360.4 572.5v-3.6M360.4 327.1v3.6M372.1 572.5v-3.6M372.1 327.1v3.6M42.6 557.7h5M383.6 557.7h-5M42.6 549h5M383.6 549h-5M42.6 542.9h5M383.6 542.9h-5M42.6 538.1h5M383.6 538.1h-5M42.6 534.3h5M383.6 534.3h-5M42.6 531h5M383.6 531h-5M42.6 528.1h5M383.6 528.1h-5M42.6 525.6h5M383.6 525.6h-5M42.6 523.4h10M383.6 523.4h-10M42.6 508.6h5M383.6 508.6h-5M42.6 500h5M383.6 500h-5M42.6 493.8h5M383.6 493.8h-5M42.6 489.1h5M383.6 489.1h-5M42.6 485.2h5M383.6 485.2h-5M42.6 481.9h5M383.6 481.9h-5M42.6 479h5M383.6 479h-5M42.6 476.5h5M383.6 476.5h-5M42.6 474.3h10M383.6 474.3h-10M42.6 459.5h5M383.6 459.5h-5M42.6 450.9h5M383.6 450.9h-5M42.6 444.7h5M383.6 444.7h-5M42.6 440h5M383.6 440h-5M42.6 436.1h5M383.6 436.1h-5M42.6 432.8h5M383.6 432.8h-5M42.6 430h5M383.6 430h-5M42.6 427.5h5M383.6 427.5h-5M42.6 425.2h10M383.6 425.2h-10M42.6 410.4h5M383.6 410.4h-5M42.6 401.8h5M383.6 401.8h-5M42.6 395.7h5M383.6 395.7h-5M42.6 390.9h5M383.6 390.9h-5M42.6 387h5M383.6 387h-5M42.6 383.7h5M383.6 383.7h-5M42.6 380.9h5M383.6 380.9h-5M42.6 378.4h5M383.6 378.4h-5M42.6 376.1h10M383.6 376.1h-10M42.6 361.4h5M383.6 361.4h-5M42.6 352.7h5M383.6 352.7h-5M42.6 346.6h5M383.6 346.6h-5M42.6 341.8h5M383.6 341.8h-5M42.6 337.9h5M383.6 337.9h-5M42.6 334.7h5M383.6 334.7h-5M42.6 331.8h5M383.6 331.8h-5M42.6 329.3h5M383.6 329.3h-5" stroke="#000" stroke-width="1.2" fill="none"/>
<rect x="42.6" y="327.1" width="341" height="245.4" fill="none" stroke="#000" stroke-width="1.5"/>
<g font-size="13"><text x="25" y="332.4">10</text><text x="34" y="381.7">1</text><text x="15.2" y="431" font-size="13.4">10</text><text x="30.1" y="425.4" font-size="8.2">−1</text><text x="15.2" y="480.1" font-size="13.4">10</text><text x="30.1" y="474.5" font-size="8.2">−2</text><text x="15.2" y="529.2" font-size="13.4">10</text><text x="30.1" y="523.6" font-size="8.2">−3</text><text x="15.2" y="578.2" font-size="13.4">10</text><text x="30.1" y="572.7" font-size="8.2">−4</text><text x="92" y="585.1" text-anchor="middle">1</text><text x="150.3" y="585.1" text-anchor="middle">2</text><text x="208.7" y="585.1" text-anchor="middle">3</text><text x="267" y="585.1" text-anchor="middle">4</text><text x="325.4" y="585.1" text-anchor="middle">5</text><text x="383.7" y="585.1" text-anchor="middle">6</text></g>
<text x="322.8" y="599.6" font-size="14.2">m</text><text x="334.6" y="603.1" font-size="9.6">W'</text><text x="349.5" y="598.9" font-size="14.3" letter-spacing="0.35">[TeV]</text>
<g transform="translate(11.3 492.1) rotate(-90) scale(0.9841 1)" font-size="13.0"><text x="0" y="0">σ(pp</text><path d="M27.4 -3.1H38.5M35.5 -6.1L38.5 -3.1L35.5 -0.1" fill="none" stroke="#000" stroke-width="1.05"/><text x="40.5" y="0">W') × BR(W'</text><path d="M112.1 -3.1H123.1M120.1 -6.1L123.1 -3.1L120.1 -0.1" fill="none" stroke="#000" stroke-width="1.05"/><text x="124.7" y="0">μν) [pb]</text></g>
<text x="146.2" y="349.2" font-size="13.4" font-weight="bold" font-style="italic">ATLAS</text>
<path d="M147.6 364.8l1.1-0.7l1.7 4.6l2.1-9.6h7.2" fill="none" stroke="#000" stroke-width="1.0"/>
<text x="152.3" y="368.9" font-size="13.3">s = 13 TeV, 36.1 fb<tspan font-size="8.5" dy="-5.5">-1</tspan></text>
<text x="146.6" y="386.8" font-size="13">W'</text>
<path d="M165.3 382.8H176.6M173.4 379.8L176.6 382.8L173.4 385.8" fill="none" stroke="#000" stroke-width="1.0"/>
<text x="181.5" y="386.8" font-size="13">μν</text>
<text x="146.3" y="405.1" font-size="13">95% CL</text>
<path d="M278.2 355.2h12" stroke="#000" stroke-width="1.8" stroke-dasharray="2.6 1.9"/>
<rect x="279.4" y="371.7" width="12.4" height="16.3" fill="#00ff00"/>
<rect x="279.4" y="397" width="12.4" height="16.1" fill="#ffff00"/>
<path d="M278.5 430.1h13.4" stroke="#000" stroke-width="1.5"/>
<path d="M279 455.3h13" stroke="#ff0000" stroke-width="1.8"/>
<g font-size="11.4"><text x="295.6" y="360.2">Expected limit</text><text x="295.6" y="385">Expected ± 1<tspan dx="-1.0">σ</tspan></text><text x="295.6" y="410.2">Expected ± 2<tspan dx="-0.8">σ</tspan></text><text x="295.6" y="435.2">Observed limit</text><text x="295.6" y="459.8">W'<tspan font-size="7.8" dy="3.2">SSM</tspan></text></g>
<text x="0" y="0" transform="translate(203.4 625) scale(0.93 1)" text-anchor="middle" font-family="Liberation Serif" font-weight="bold" font-size="17">(b)</text>
<clipPath id="c2"><rect x="42.6" y="648.2" width="341" height="245.4"/></clipPath>
<g clip-path="url(#c2)">
<polygon points="42.6,672.6 42.9,677.6 43.3,682.5 43.7,687.3 44.1,691.9 44.6,696.4 45,700.9 45.6,705.2 46.1,709.3 46.7,713.4 47.3,717.4 47.9,721.2 48.6,725 49.3,728.6 50,732.1 50.8,735.6 51.6,738.9 52.4,742.2 53.2,745.3 54.1,748.4 55,751.4 56,754.3 57,757.1 58,759.9 59,762.5 60.1,765.1 61.2,767.6 62.3,770.1 63.5,772.4 64.6,774.7 65.9,777 67.1,779.2 68.4,781.3 69.7,783.3 71.1,785.3 72.4,787.3 73.8,789.2 75.3,791.1 76.8,792.9 78.3,794.7 79.8,796.4 81.3,798.1 82.9,799.7 84.6,801.3 86.2,802.9 87.9,804.5 89.6,806 91.4,807.5 93.1,809 94.9,810.5 96.8,811.9 98.6,813.3 100.5,814.8 102.5,816.2 104.4,817.5 106.4,818.9 108.4,820.3 110.5,821.6 112.6,823 114.7,824.3 116.8,825.6 119,826.9 121.2,828.2 123.5,829.4 125.7,830.7 128,831.9 130.4,833.1 132.7,834.3 135.1,835.4 137.5,836.6 140,837.7 142.5,838.8 145,839.9 147.5,840.9 150.1,841.9 152.7,843 155.4,843.9 158,844.9 160.7,845.8 163.5,846.7 166.2,847.6 169,848.5 171.8,849.3 174.7,850.1 177.6,850.9 180.5,851.7 183.4,852.4 186.4,853.1 189.4,853.7 192.4,854.4 195.5,855 198.6,855.5 201.7,856.1 204.9,856.6 208.1,857.1 211.3,857.5 214.6,857.9 217.9,858.3 221.2,858.6 224.5,858.9 227.9,859.2 231.3,859.4 234.7,859.6 238.2,859.7 241.7,859.9 245.2,859.9 248.8,860 252.4,860 256,859.9 259.7,859.9 263.4,859.7 267.1,859.6 270.8,859.4 274.6,859.1 278.4,858.8 282.2,858.5 286.1,858.1 290,857.7 293.9,857.2 297.9,856.7 301.9,856.1 305.9,855.5 310,854.9 314.1,854.2 318.2,853.4 322.3,852.6 326.5,851.8 330.7,850.9 334.9,849.9 339.2,848.9 343.5,847.9 347.8,846.8 352.2,845.6 356.6,844.4 361,843.2 365.5,841.9 370,840.5 374.5,839.1 379,837.6 383.6,836.1 383.6,859.9 379,861.6 374.5,863.2 370,864.8 365.5,866.3 361,867.7 356.6,869.1 352.2,870.5 347.8,871.8 343.5,873 339.2,874.1 334.9,875.3 330.7,876.3 326.5,877.3 322.3,878.3 318.2,879.2 314.1,880 310,880.8 305.9,881.6 301.9,882.2 297.9,882.9 293.9,883.5 290,884 286.1,884.5 282.2,885 278.4,885.4 274.6,885.7 270.8,886 267.1,886.3 263.4,886.5 259.7,886.7 256,886.9 252.4,886.9 248.8,887 245.2,887 241.7,887 238.2,886.9 234.7,886.8 231.3,886.6 227.9,886.4 224.5,886.2 221.2,885.9 217.9,885.6 214.6,885.3 211.3,884.9 208.1,884.5 204.9,884.1 201.7,883.6 198.6,883.1 195.5,882.5 192.4,881.9 189.4,881.3 186.4,880.7 183.4,880 180.5,879.3 177.6,878.6 174.7,877.8 171.8,877 169,876.2 166.2,875.4 163.5,874.5 160.7,873.6 158,872.7 155.4,871.8 152.7,870.8 150.1,869.8 147.5,868.8 145,867.7 142.5,866.7 140,865.6 137.5,864.5 135.1,863.4 132.7,862.2 130.4,861.1 128,859.9 125.7,858.7 123.5,857.5 121.2,856.3 119,855 116.8,853.7 114.7,852.5 112.6,851.2 110.5,849.9 108.4,848.6 106.4,847.2 104.4,845.9 102.5,844.5 100.5,843.2 98.6,841.8 96.8,840.4 94.9,839 93.1,837.6 91.4,836.1 89.6,834.6 87.9,833.1 86.2,831.5 84.6,829.8 82.9,828.2 81.3,826.4 79.8,824.6 78.3,822.7 76.8,820.7 75.3,818.7 73.8,816.6 72.4,814.3 71.1,812 69.7,809.6 68.4,807.1 67.1,804.4 65.9,801.7 64.6,798.8 63.5,795.9 62.3,793 61.2,790 60.1,787 59,784 58,781.1 57,778.1 56,775.3 55,772.5 54.1,769.8 53.2,767.2 52.4,764.7 51.6,762.2 50.8,759.6 50,757.1 49.3,754.5 48.6,751.8 47.9,749 47.3,746.1 46.7,743.1 46.1,739.8 45.6,736.3 45,732.5 44.6,728.3 44.1,723.7 43.7,718.7 43.3,713.2 42.9,707.1 42.6,700.5" fill="#ffff00"/>
<polygon points="42.6,679.8 42.9,686.1 43.3,691.9 43.7,697.2 44.1,702.1 44.6,706.7 45,710.9 45.6,714.9 46.1,718.5 46.7,722 47.3,725.4 47.9,728.6 48.6,731.7 49.3,734.8 50,737.8 50.8,740.9 51.6,743.9 52.4,746.9 53.2,749.9 54.1,752.9 55,755.9 56,759 57,761.9 58,764.8 59,767.6 60.1,770.3 61.2,772.9 62.3,775.5 63.5,777.9 64.6,780.3 65.9,782.6 67.1,784.8 68.4,787 69.7,789.1 71.1,791.1 72.4,793.1 73.8,795 75.3,796.9 76.8,798.7 78.3,800.5 79.8,802.2 81.3,803.9 82.9,805.5 84.6,807.1 86.2,808.7 87.9,810.2 89.6,811.8 91.4,813.2 93.1,814.7 94.9,816.2 96.8,817.6 98.6,819 100.5,820.4 102.5,821.8 104.4,823.2 106.4,824.6 108.4,826 110.5,827.4 112.6,828.7 114.7,830.1 116.8,831.4 119,832.7 121.2,834 123.5,835.3 125.7,836.6 128,837.8 130.4,839.1 132.7,840.3 135.1,841.5 137.5,842.7 140,843.9 142.5,845.1 145,846.2 147.5,847.3 150.1,848.4 152.7,849.5 155.4,850.5 158,851.5 160.7,852.5 163.5,853.5 166.2,854.5 169,855.4 171.8,856.3 174.7,857.2 177.6,858 180.5,858.9 183.4,859.6 186.4,860.4 189.4,861.1 192.4,861.8 195.5,862.5 198.6,863.1 201.7,863.8 204.9,864.3 208.1,864.9 211.3,865.4 214.6,865.8 217.9,866.3 221.2,866.7 224.5,867 227.9,867.3 231.3,867.6 234.7,867.9 238.2,868.1 241.7,868.2 245.2,868.4 248.8,868.4 252.4,868.5 256,868.5 259.7,868.4 263.4,868.3 267.1,868.2 270.8,868 274.6,867.8 278.4,867.5 282.2,867.2 286.1,866.8 290,866.4 293.9,865.9 297.9,865.4 301.9,864.9 305.9,864.2 310,863.6 314.1,862.8 318.2,862.1 322.3,861.2 326.5,860.4 330.7,859.4 334.9,858.4 339.2,857.4 343.5,856.3 347.8,855.1 352.2,853.9 356.6,852.6 361,851.3 365.5,849.9 370,848.4 374.5,846.9 379,845.3 383.6,843.6 383.6,855.9 379,857.6 374.5,859.2 370,860.8 365.5,862.4 361,863.8 356.6,865.3 352.2,866.6 347.8,867.9 343.5,869.1 339.2,870.3 334.9,871.4 330.7,872.5 326.5,873.4 322.3,874.4 318.2,875.3 314.1,876.1 310,876.9 305.9,877.6 301.9,878.3 297.9,878.9 293.9,879.4 290,879.9 286.1,880.4 282.2,880.8 278.4,881.2 274.6,881.5 270.8,881.7 267.1,882 263.4,882.1 259.7,882.3 256,882.3 252.4,882.4 248.8,882.4 245.2,882.3 241.7,882.2 238.2,882.1 234.7,881.9 231.3,881.7 227.9,881.4 224.5,881.1 221.2,880.8 217.9,880.4 214.6,880 211.3,879.6 208.1,879.1 204.9,878.6 201.7,878.1 198.6,877.5 195.5,876.9 192.4,876.2 189.4,875.5 186.4,874.8 183.4,874.1 180.5,873.3 177.6,872.5 174.7,871.7 171.8,870.9 169,870 166.2,869.1 163.5,868.1 160.7,867.2 158,866.2 155.4,865.2 152.7,864.2 150.1,863.1 147.5,862.1 145,861 142.5,859.9 140,858.8 137.5,857.6 135.1,856.5 132.7,855.3 130.4,854.1 128,852.9 125.7,851.7 123.5,850.4 121.2,849.2 119,847.9 116.8,846.6 114.7,845.3 112.6,844 110.5,842.7 108.4,841.4 106.4,840.1 104.4,838.7 102.5,837.4 100.5,836 98.6,834.7 96.8,833.3 94.9,831.9 93.1,830.5 91.4,829.1 89.6,827.6 87.9,826.1 86.2,824.6 84.6,823 82.9,821.4 81.3,819.7 79.8,817.9 78.3,816.1 76.8,814.2 75.3,812.3 73.8,810.2 72.4,808.1 71.1,805.8 69.7,803.5 68.4,801.1 67.1,798.6 65.9,796 64.6,793.4 63.5,790.7 62.3,788 61.2,785.3 60.1,782.6 59,779.8 58,777.1 57,774.4 56,771.8 55,769.2 54.1,766.6 53.2,764 52.4,761.4 51.6,758.8 50.8,756.1 50,753.3 49.3,750.4 48.6,747.5 47.9,744.3 47.3,741.1 46.7,737.6 46.1,733.9 45.6,729.9 45,725.6 44.6,720.9 44.1,715.9 43.7,710.5 43.3,704.6 42.9,698.2 42.6,691.2" fill="#00ff00"/>
<polyline points="42.6,674.8 42.9,682.2 43.3,689.1 43.7,695.5 44.1,701.5 44.6,707.1 45,712.4 45.6,717.3 46.1,721.9 46.7,726.2 47.3,730.3 47.9,734.2 48.6,737.9 49.3,741.4 50,744.8 50.8,748.2 51.6,751.5 52.4,754.7 53.2,757.9 54.1,761.1 55,764.2 56,767.2 57,770.2 58,773 59,775.9 60.1,778.6 61.2,781.2 62.3,783.7 63.5,786.1 64.6,788.5 65.9,790.7 67.1,792.9 68.4,795 69.7,797 71.1,798.9 72.4,800.8 73.8,802.6 75.3,804.4 76.8,806.1 78.3,807.8 79.8,809.5 81.3,811.1 82.9,812.7 84.6,814.3 86.2,815.9 87.9,817.5 89.6,819 91.4,820.6 93.1,822.1 94.9,823.7 96.8,825.2 98.6,826.7 100.5,828.2 102.5,829.7 104.4,831.1 106.4,832.6 108.4,834 110.5,835.4 112.6,836.9 114.7,838.2 116.8,839.6 119,841 121.2,842.3 123.5,843.6 125.7,844.9 128,846.2 130.4,847.5 132.7,848.7 135.1,850 137.5,851.2 140,852.3 142.5,853.5 145,854.6 147.5,855.7 150.1,856.8 152.7,857.9 155.4,858.9 158,859.9 160.7,860.9 163.5,861.8 166.2,862.8 169,863.7 171.8,864.5 174.7,865.4 177.6,866.2 180.5,867 183.4,867.7 186.4,868.5 189.4,869.2 192.4,869.8 195.5,870.4 198.6,871 201.7,871.6 204.9,872.1 208.1,872.6 211.3,873.1 214.6,873.5 217.9,873.9 221.2,874.2 224.5,874.5 227.9,874.8 231.3,875.1 234.7,875.2 238.2,875.4 241.7,875.5 245.2,875.6 248.8,875.6 252.4,875.6 256,875.6 259.7,875.5 263.4,875.4 267.1,875.2 270.8,875 274.6,874.7 278.4,874.4 282.2,874.1 286.1,873.7 290,873.2 293.9,872.7 297.9,872.2 301.9,871.6 305.9,871 310,870.3 314.1,869.6 318.2,868.8 322.3,868 326.5,867.1 330.7,866.1 334.9,865.1 339.2,864.1 343.5,863 347.8,861.9 352.2,860.7 356.6,859.4 361,858.1 365.5,856.7 370,855.3 374.5,853.8 379,852.3 383.6,850.7" fill="none" stroke="#000" stroke-width="1.6" stroke-dasharray="2.2 2.6"/>
<polyline points="43,672 44,700 45.6,723 47.3,735.8 48.5,744.5 51.5,745.8 54,748.5 55.5,760 57.3,770 60.8,781.6 66.6,793.2 71.2,802.5 74.7,814.1 77.6,817 81.7,812.9 86.3,818.7 88.6,821 95,812.5 100.2,819.3 106.6,834.1 109.8,835.4 118.8,832.9 124.6,834.8 133.7,838 137.5,840 140,841 145,846.4 147.7,850 156.8,853.8 161.9,855.8 169.6,861.6 176.1,866.7 182.5,870.6 190,872.5 200.5,873.4 215.9,874.9 231.4,875.3 250,874.5 276.1,872.8 300,869 326.4,863.5 350,857 369.2,851.5 378,848.4 383.6,846.8" fill="none" stroke="#000" stroke-width="1.4" stroke-linejoin="round"/>
<polyline points="78.4,647.5 81.8,653.1 85.2,658.5 88.7,663.7 92.1,668.8 95.5,673.6 99,678.3 102.4,682.9 105.8,687.3 109.3,691.6 112.7,695.8 116.1,699.8 119.5,703.7 123,707.6 126.4,711.3 129.8,714.9 133.3,718.5 136.7,721.9 140.1,725.3 143.5,728.6 147,731.9 150.4,735.1 153.8,738.2 157.3,741.2 160.7,744.3 164.1,747.2 167.6,750.1 171,753 174.4,755.8 177.8,758.6 181.3,761.4 184.7,764.1 188.1,766.8 191.6,769.4 195,772.1 198.4,774.7 201.8,777.3 205.3,779.9 208.7,782.4 212.1,785 215.6,787.5 219,790 222.4,792.4 225.9,794.9 229.3,797.3 232.7,799.7 236.1,802.1 239.6,804.5 243,806.8 246.4,809.1 249.9,811.4 253.3,813.7 256.7,816 260.1,818.2 263.6,820.4 267,822.6 270.4,824.7 273.9,826.8 277.3,828.9 280.7,831 284.1,833.1 287.6,835.2 291,837.2 294.4,839.2 297.9,841.2 301.3,843.1 304.7,845 308.2,846.8 311.6,848.6 315,850.4 318.4,852.2 321.9,853.9 325.3,855.5 328.7,857.1 332.2,858.7 335.6,860.3 339,861.7 342.4,863.2 345.9,864.6 349.3,866 352.7,867.3 356.2,868.5 359.6,869.8 363,870.9 366.5,872.1 369.9,873.2 373.3,874.2 376.7,875.2 380.2,876.2 383.6,877.1" fill="none" stroke="#ff0000" stroke-width="1.9" stroke-dasharray="2.4 2.2"/>
<polyline points="78.4,649.1 81.8,654.8 85.2,660.3 88.7,665.7 92.1,670.9 95.5,676 99,680.9 102.4,685.6 105.8,690.2 109.3,694.6 112.7,698.9 116.1,703.2 119.5,707.2 123,711.2 126.4,715.1 129.8,718.9 133.3,722.6 136.7,726.2 140.1,729.7 143.5,733.1 147,736.5 150.4,739.8 153.8,743.1 157.3,746.3 160.7,749.4 164.1,752.5 167.6,755.5 171,758.5 174.4,761.5 177.8,764.4 181.3,767.3 184.7,770.1 188.1,772.9 191.6,775.7 195,778.5 198.4,781.2 201.8,783.9 205.3,786.5 208.7,789.2 212.1,791.8 215.6,794.3 219,796.9 222.4,799.4 225.9,801.9 229.3,804.4 232.7,806.9 236.1,809.3 239.6,811.8 243,814.2 246.4,816.5 249.9,818.9 253.3,821.2 256.7,823.5 260.1,825.8 263.6,828.1 267,830.3 270.4,832.5 273.9,834.7 277.3,836.9 280.7,839 284.1,841 287.6,843 291,845 294.4,847 297.9,848.9 301.3,850.7 304.7,852.6 308.2,854.4 311.6,856.1 315,857.9 318.4,859.5 321.9,861.2 325.3,862.8 328.7,864.4 332.2,865.9 335.6,867.3 339,868.7 342.4,870.1 345.9,871.4 349.3,872.7 352.7,874 356.2,875.2 359.6,876.3 363,877.4 366.5,878.5 369.9,879.5 373.3,880.4 376.7,881.4 380.2,882.2 383.6,883.1" fill="none" stroke="#ff0000" stroke-width="1.9" stroke-dasharray="2.4 2.2"/>
<polyline points="78.4,648.2 81.8,653.9 85.2,659.4 88.7,664.7 92.1,669.8 95.5,674.8 99,679.6 102.4,684.2 105.8,688.8 109.3,693.1 112.7,697.4 116.1,701.5 119.5,705.5 123,709.4 126.4,713.2 129.8,716.9 133.3,720.5 136.7,724.1 140.1,727.5 143.5,730.9 147,734.2 150.4,737.4 153.8,740.6 157.3,743.8 160.7,746.8 164.1,749.9 167.6,752.8 171,755.8 174.4,758.7 177.8,761.5 181.3,764.3 184.7,767.1 188.1,769.9 191.6,772.6 195,775.3 198.4,777.9 201.8,780.6 205.3,783.2 208.7,785.8 212.1,788.4 215.6,790.9 219,793.4 222.4,795.9 225.9,798.4 229.3,800.9 232.7,803.3 236.1,805.7 239.6,808.1 243,810.5 246.4,812.8 249.9,815.2 253.3,817.5 256.7,819.7 260.1,822 263.6,824.2 267,826.4 270.4,828.6 273.9,830.8 277.3,832.9 280.7,835 284.1,837.1 287.6,839.1 291,841.1 294.4,843.1 297.9,845 301.3,846.9 304.7,848.8 308.2,850.6 311.6,852.4 315,854.1 318.4,855.9 321.9,857.5 325.3,859.2 328.7,860.7 332.2,862.3 335.6,863.8 339,865.2 342.4,866.7 345.9,868 349.3,869.3 352.7,870.6 356.2,871.9 359.6,873 363,874.2 366.5,875.3 369.9,876.3 373.3,877.3 376.7,878.3 380.2,879.2 383.6,880.1" fill="none" stroke="#ff0000" stroke-width="2.1"/>
</g>
<path d="M45.3 893.6v-3.6M45.3 648.2v3.6M57 893.6v-3.6M57 648.2v3.6M68.7 893.6v-3.6M68.7 648.2v3.6M80.3 893.6v-3.6M80.3 648.2v3.6M92 893.6v-7M92 648.2v7M103.7 893.6v-3.6M103.7 648.2v3.6M115.3 893.6v-3.6M115.3 648.2v3.6M127 893.6v-3.6M127 648.2v3.6M138.7 893.6v-3.6M138.7 648.2v3.6M150.3 893.6v-7M150.3 648.2v7M162 893.6v-3.6M162 648.2v3.6M173.7 893.6v-3.6M173.7 648.2v3.6M185.4 893.6v-3.6M185.4 648.2v3.6M197 893.6v-3.6M197 648.2v3.6M208.7 893.6v-7M208.7 648.2v7M220.4 893.6v-3.6M220.4 648.2v3.6M232 893.6v-3.6M232 648.2v3.6M243.7 893.6v-3.6M243.7 648.2v3.6M255.4 893.6v-3.6M255.4 648.2v3.6M267 893.6v-7M267 648.2v7M278.7 893.6v-3.6M278.7 648.2v3.6M290.4 893.6v-3.6M290.4 648.2v3.6M302.1 893.6v-3.6M302.1 648.2v3.6M313.7 893.6v-3.6M313.7 648.2v3.6M325.4 893.6v-7M325.4 648.2v7M337.1 893.6v-3.6M337.1 648.2v3.6M348.7 893.6v-3.6M348.7 648.2v3.6M360.4 893.6v-3.6M360.4 648.2v3.6M372.1 893.6v-3.6M372.1 648.2v3.6M42.6 878.9h5M383.6 878.9h-5M42.6 870.2h5M383.6 870.2h-5M42.6 864.1h5M383.6 864.1h-5M42.6 859.3h5M383.6 859.3h-5M42.6 855.5h5M383.6 855.5h-5M42.6 852.2h5M383.6 852.2h-5M42.6 849.3h5M383.6 849.3h-5M42.6 846.8h5M383.6 846.8h-5M42.6 844.6h10M383.6 844.6h-10M42.6 829.8h5M383.6 829.8h-5M42.6 821.2h5M383.6 821.2h-5M42.6 815h5M383.6 815h-5M42.6 810.3h5M383.6 810.3h-5M42.6 806.4h5M383.6 806.4h-5M42.6 803.1h5M383.6 803.1h-5M42.6 800.2h5M383.6 800.2h-5M42.6 797.7h5M383.6 797.7h-5M42.6 795.5h10M383.6 795.5h-10M42.6 780.7h5M383.6 780.7h-5M42.6 772.1h5M383.6 772.1h-5M42.6 765.9h5M383.6 765.9h-5M42.6 761.2h5M383.6 761.2h-5M42.6 757.3h5M383.6 757.3h-5M42.6 754h5M383.6 754h-5M42.6 751.2h5M383.6 751.2h-5M42.6 748.7h5M383.6 748.7h-5M42.6 746.4h10M383.6 746.4h-10M42.6 731.6h5M383.6 731.6h-5M42.6 723h5M383.6 723h-5M42.6 716.9h5M383.6 716.9h-5M42.6 712.1h5M383.6 712.1h-5M42.6 708.2h5M383.6 708.2h-5M42.6 704.9h5M383.6 704.9h-5M42.6 702.1h5M383.6 702.1h-5M42.6 699.6h5M383.6 699.6h-5M42.6 697.3h10M383.6 697.3h-10M42.6 682.6h5M383.6 682.6h-5M42.6 673.9h5M383.6 673.9h-5M42.6 667.8h5M383.6 667.8h-5M42.6 663h5M383.6 663h-5M42.6 659.1h5M383.6 659.1h-5M42.6 655.9h5M383.6 655.9h-5M42.6 653h5M383.6 653h-5M42.6 650.5h5M383.6 650.5h-5" stroke="#000" stroke-width="1.2" fill="none"/>
<rect x="42.6" y="648.2" width="341" height="245.4" fill="none" stroke="#000" stroke-width="1.5"/>
<g font-size="13"><text x="25" y="653.6">10</text><text x="34" y="702.9">1</text><text x="15.2" y="752.2" font-size="13.4">10</text><text x="30.1" y="746.6" font-size="8.2">−1</text><text x="15.2" y="801.3" font-size="13.4">10</text><text x="30.1" y="795.7" font-size="8.2">−2</text><text x="15.2" y="850.4" font-size="13.4">10</text><text x="30.1" y="844.8" font-size="8.2">−3</text><text x="15.2" y="899.4" font-size="13.4">10</text><text x="30.1" y="893.9" font-size="8.2">−4</text><text x="92" y="906.2" text-anchor="middle">1</text><text x="150.3" y="906.2" text-anchor="middle">2</text><text x="208.7" y="906.2" text-anchor="middle">3</text><text x="267" y="906.2" text-anchor="middle">4</text><text x="325.4" y="906.2" text-anchor="middle">5</text><text x="383.7" y="906.2" text-anchor="middle">6</text></g>
<text x="322.8" y="920.8" font-size="14.2">m</text><text x="334.6" y="924.2" font-size="9.6">W'</text><text x="349.5" y="920" font-size="14.3" letter-spacing="0.35">[TeV]</text>
<g transform="translate(11.3 810.6) rotate(-90) scale(0.9953 1)" font-size="13.0"><text x="0" y="0">σ(pp</text><path d="M27.4 -3.1H38.5M35.5 -6.1L38.5 -3.1L35.5 -0.1" fill="none" stroke="#000" stroke-width="1.05"/><text x="40.5" y="0">W') × BR(W'</text><path d="M112.1 -3.1H123.1M120.1 -6.1L123.1 -3.1L120.1 -0.1" fill="none" stroke="#000" stroke-width="1.05"/><text x="124.7" y="0">lν) [pb]</text></g>
<text x="146.2" y="670.4" font-size="13.4" font-weight="bold" font-style="italic">ATLAS</text>
<path d="M147.6 686l1.1-0.7l1.7 4.6l2.1-9.6h7.2" fill="none" stroke="#000" stroke-width="1.0"/>
<text x="152.3" y="690.1" font-size="13.3">s = 13 TeV, 36.1 fb<tspan font-size="8.5" dy="-5.5">-1</tspan></text>
<text x="146.6" y="708" font-size="13">W'</text>
<path d="M165.3 704H176.6M173.4 701L176.6 704L173.4 707" fill="none" stroke="#000" stroke-width="1.0"/>
<text x="181.5" y="708" font-size="13">lν</text>
<text x="146.3" y="726.3" font-size="13">95% CL</text>
<path d="M278.2 676.4h12" stroke="#000" stroke-width="1.8" stroke-dasharray="2.6 1.9"/>
<rect x="279.4" y="692.9" width="12.4" height="16.3" fill="#00ff00"/>
<rect x="279.4" y="718.2" width="12.4" height="16.1" fill="#ffff00"/>
<path d="M278.5 751.3h13.4" stroke="#000" stroke-width="1.5"/>
<path d="M279 776.5h13" stroke="#ff0000" stroke-width="1.8"/>
<g font-size="11.4"><text x="295.6" y="681.4">Expected limit</text><text x="295.6" y="706.2">Expected ± 1<tspan dx="-1.0">σ</tspan></text><text x="295.6" y="731.4">Expected ± 2<tspan dx="-0.8">σ</tspan></text><text x="295.6" y="756.4">Observed limit</text><text x="295.6" y="781">W'<tspan font-size="7.8" dy="3.2">SSM</tspan></text></g>
<text x="0" y="0" transform="translate(203.4 946.2) scale(0.93 1)" text-anchor="middle" font-family="Liberation Serif" font-weight="bold" font-size="17">(c)</text>
</svg>
</body></html>
